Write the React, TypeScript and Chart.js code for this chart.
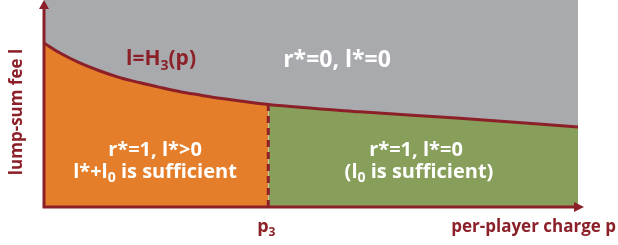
import React, { useEffect, useRef } from "react";
import { Chart, registerables } from "chart.js";

Chart.register(...registerables);

// Per-player charge p (abstract units 0..100) and boundary l = H3(p)
const pValues = [0, 3, 6.7, 10.5, 14.2, 18, 21.7, 25.5, 29.2, 33, 36.7, 42, 59.2, 77.9, 100];
const hValues = [79.2, 74.4, 69.6, 65.7, 62.5, 60.0, 57.8, 55.7, 54.1, 52.5, 51.2, 49.5, 46.0, 42.9, 38.6];
const p3 = 42;
const yMax = 100;

const curveLabel = ["l=H", "3", "(p)"];
const topRegionLabel = "r*=0, l*=0";
const leftRegionLines = [["r*=1, l*>0"], ["l*+l", "0", " is sufficient"]];
const rightRegionLines = [["r*=1, l*=0"], ["(l", "0", " is sufficient)"]];
const xAxisLabel = "per-player charge p";
const yAxisLabel = "lump-sum fee l";
const p3Label = ["p", "3"];

const DARK_RED = "#8C2029";
const GRAY = "#A9AAAD";
const ORANGE = "#E57E2A";
const GREEN = "#879F5A";
const FONT = "'Open Sans', Lato, sans-serif";

type Part = string[];

function drawRich(
  ctx: CanvasRenderingContext2D,
  parts: Part,
  cx: number,
  baseline: number,
  size: number,
  color: string,
  align: "center" | "right" = "center"
) {
  const mainFont = `bold ${size}px ${FONT}`;
  const subFont = `bold ${Math.round(size * 0.68)}px ${FONT}`;
  let total = 0;
  const widths: number[] = [];
  parts.forEach((t, i) => {
    ctx.font = i % 2 === 1 ? subFont : mainFont;
    const w = ctx.measureText(t).width;
    widths.push(w);
    total += w;
  });
  let x = align === "center" ? cx - total / 2 : cx - total;
  ctx.fillStyle = color;
  ctx.textAlign = "left";
  ctx.textBaseline = "alphabetic";
  parts.forEach((t, i) => {
    const sub = i % 2 === 1;
    ctx.font = sub ? subFont : mainFont;
    ctx.fillText(t, x, sub ? baseline + size * 0.22 : baseline);
    x += widths[i];
  });
}

const annotationPlugin = {
  id: "diagramAnnotations",
  afterDatasetsDraw(chart: any) {
    const ctx: CanvasRenderingContext2D = chart.ctx;
    const xs = chart.scales.x;
    const ys = chart.scales.y;
    const x0 = xs.getPixelForValue(0);
    const x1 = xs.getPixelForValue(100);
    const y0 = ys.getPixelForValue(0);
    const yTop = ys.getPixelForValue(yMax);
    ctx.save();
    // axes
    ctx.strokeStyle = DARK_RED;
    ctx.fillStyle = DARK_RED;
    ctx.lineWidth = 3;
    ctx.beginPath();
    ctx.moveTo(x0, y0);
    ctx.lineTo(x1 - 2, y0);
    ctx.moveTo(x0, y0 + 1.5);
    ctx.lineTo(x0, yTop + 6);
    ctx.stroke();
    // arrow heads
    ctx.beginPath();
    ctx.moveTo(x1 + 6, y0);
    ctx.lineTo(x1 - 4, y0 - 5);
    ctx.lineTo(x1 - 4, y0 + 5);
    ctx.closePath();
    ctx.fill();
    ctx.beginPath();
    ctx.moveTo(x0, yTop);
    ctx.lineTo(x0 - 5, yTop + 9);
    ctx.lineTo(x0 + 5, yTop + 9);
    ctx.closePath();
    ctx.fill();

    // region labels
    drawRich(ctx, curveLabel, 161, 65, 21, DARK_RED);
    drawRich(ctx, [topRegionLabel], 337, 67, 23, "#FFFFFF");
    drawRich(ctx, leftRegionLines[0], 155, 156, 20, "#FFFFFF");
    drawRich(ctx, leftRegionLines[1], 155, 178, 20, "#FFFFFF");
    drawRich(ctx, rightRegionLines[0], 416, 156, 20, "#FFFFFF");
    drawRich(ctx, rightRegionLines[1], 419, 178, 20, "#FFFFFF");

    // axis labels
    const p3x = xs.getPixelForValue(p3);
    drawRich(ctx, p3Label, p3x - 2, 232, 18, DARK_RED);
    drawRich(ctx, [xAxisLabel], 616, 232, 17, DARK_RED, "right");
    ctx.save();
    ctx.translate(22, 112);
    ctx.rotate(-Math.PI / 2);
    drawRich(ctx, [yAxisLabel], 0, 0, 17, DARK_RED);
    ctx.restore();
    ctx.restore();
  },
};

export default function App() {
  const ref = useRef<HTMLCanvasElement | null>(null);
  useEffect(() => {
    document.body.style.margin = "0";
    const canvas = ref.current;
    if (!canvas) return;
    const curve = pValues.map((x, i) => ({ x, y: hValues[i] }));
    const left = curve.filter((pt) => pt.x <= p3);
    const right = curve.filter((pt) => pt.x >= p3);
    const h3 = hValues[pValues.indexOf(p3)];
    const chart = new Chart(canvas, {
      type: "line",
      data: {
        datasets: [
          {
            label: "H3",
            data: curve,
            borderColor: DARK_RED,
            borderWidth: 3,
            pointRadius: 0,
            fill: false,
            cubicInterpolationMode: "monotone",
            order: 0,
          },
          {
            label: "gray",
            data: [
              { x: 0, y: yMax },
              { x: 100, y: yMax },
            ],
            borderWidth: 0,
            borderColor: "transparent",
            backgroundColor: GRAY,
            pointRadius: 0,
            fill: 0,
            order: 5,
          },
          {
            label: "orange",
            data: left,
            borderWidth: 0,
            borderColor: "transparent",
            backgroundColor: ORANGE,
            pointRadius: 0,
            fill: "origin",
            cubicInterpolationMode: "monotone",
            order: 4,
          },
          {
            label: "green",
            data: right,
            borderWidth: 0,
            borderColor: "transparent",
            backgroundColor: GREEN,
            pointRadius: 0,
            fill: "origin",
            cubicInterpolationMode: "monotone",
            order: 3,
          },
          {
            label: "p3",
            data: [
              { x: p3, y: 0 },
              { x: p3, y: h3 },
            ],
            borderColor: DARK_RED,
            borderWidth: 3,
            borderDash: [7, 5],
            pointRadius: 0,
            fill: false,
            order: 1,
          },
        ],
      },
      options: {
        responsive: false,
        animation: false,
        layout: { padding: { left: 44, right: 40, top: 0, bottom: 38 } },
        plugins: { legend: { display: false }, tooltip: { enabled: false } },
        scales: {
          x: { type: "linear", min: 0, max: 100, display: false },
          y: { type: "linear", min: 0, max: yMax, display: false },
        },
      },
      plugins: [annotationPlugin],
    });
    return () => chart.destroy();
  }, []);
  return <canvas ref={ref} width={618} height={245} style={{ display: "block" }} />;
}
